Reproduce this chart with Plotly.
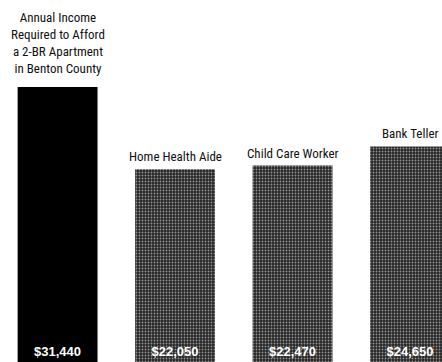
import plotly.graph_objects as go

categories = ["Annual Income<br>Required to Afford<br>a 2-BR Apartment<br>in Benton County",
              "Home Health Aide", "Child Care Worker", "Bank Teller"]
values = [31440, 22050, 22470, 24650]
value_labels = ["$31,440", "$22,050", "$22,470", "$24,650"]

x_idx = list(range(len(categories)))
colors = ["#000000", "#262626", "#262626", "#262626"]
patterns = ["", ".", ".", "."]

fig = go.Figure()
fig.add_trace(go.Bar(
    x=x_idx, y=values, width=0.68,
    marker=dict(color=colors, line=dict(width=0),
                pattern=dict(shape=patterns, fgcolor="#707070", bgcolor="#1c1c1c",
                             size=3, solidity=0.3, fillmode="overlay")),
    text=value_labels, textposition="inside", insidetextanchor="start",
    textangle=0,
    textfont=dict(family="Liberation Sans, Arial, sans-serif", size=13, color="white", weight="bold"),
    hoverinfo="skip", showlegend=False,
))

for i, (c, v) in enumerate(zip(categories, values)):
    fig.add_annotation(x=i, y=v, text=c, showarrow=False, yanchor="bottom",
                       xanchor="center", yshift=3 if i else 9, align="center",
                       font=dict(family="Liberation Sans Narrow, Arial Narrow, Roboto Condensed, Liberation Sans, sans-serif",
                                 size=13, color="#111111"))

fig.update_layout(
    width=442, height=362,
    margin=dict(l=0, r=0, t=0, b=0),
    paper_bgcolor="white", plot_bgcolor="white",
    xaxis=dict(visible=False, range=[-0.49, 3.272]),
    yaxis=dict(visible=False, range=[0, 41400]),
    uniformtext=dict(minsize=8, mode="show"),
)

fig.write_html("out.html", config={"displayModeBar": False, "staticPlot": True},
               post_script="document.body.style.margin='0';document.body.style.overflow='hidden';")
